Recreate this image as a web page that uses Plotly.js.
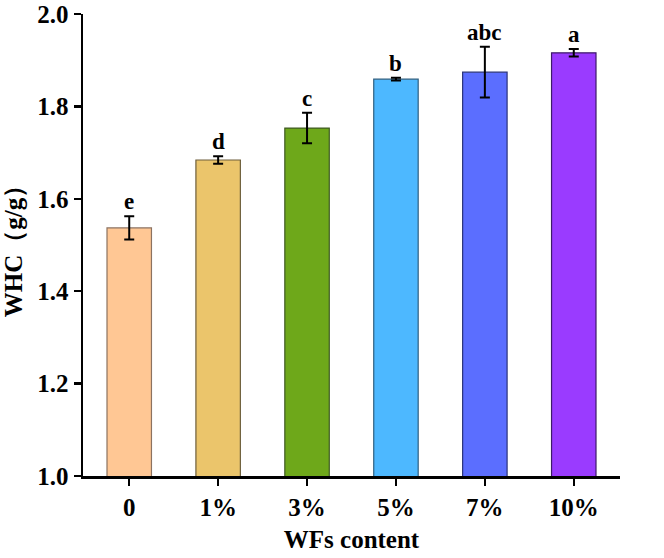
<!DOCTYPE html>
<html>
<head>
<meta charset="utf-8">
<script src="https://cdn.plot.ly/plotly-3.0.1.min.js"></script>
<style>
  html, body { margin: 0; padding: 0; background: #fff; }
  #chart { width: 664px; height: 558px; }
</style>
</head>
<body>
<div id="chart"></div>
<script>
// Water holding capacity by WFs content
const categories = ['0', '1%', '3%', '5%', '7%', '10%'];
const whc = [1.537, 1.684, 1.753, 1.859, 1.874, 1.916];
const whcErr = [0.025, 0.008, 0.033, 0.003, 0.055, 0.008];
const sigLetters = ['e', 'd', 'c', 'b', 'abc', 'a'];
const fillColors = ['#FFC794', '#EBC56B', '#6EA81A', '#4DB8FF', '#5B6EFF', '#9A3BFF'];
const edgeColors = ['#8C7260', '#6E5F3C', '#3F5A22', '#2F5F80', '#2A347A', '#3E1A6A'];

const font = '"Liberation Serif", "Times New Roman", serif';

const trace = {
  type: 'bar',
  x: categories,
  y: whc,
  width: 0.5,
  marker: { color: fillColors, line: { color: edgeColors, width: 1.2 } },
  error_y: { type: 'data', array: whcErr, visible: true, color: '#000', thickness: 2, width: 5 },
  hoverinfo: 'x+y'
};

const annotations = categories.map((c, i) => ({
  x: c,
  y: whc[i] + whcErr[i],
  xref: 'x', yref: 'y',
  text: '<b>' + sigLetters[i] + '</b>',
  showarrow: false,
  yanchor: 'bottom',
  yshift: 0,
  font: { family: font, size: 23, color: '#000' }
}));

const layout = {
  width: 664, height: 558,
  margin: { l: 83, r: 44, t: 14, b: 82 },
  paper_bgcolor: '#fff', plot_bgcolor: '#fff',
  showlegend: false,
  bargap: 0.5,
  font: { family: font },
  xaxis: {
    type: 'category',
    range: [-0.52, 5.52],
    showline: true, linecolor: '#000', linewidth: 2.5,
    ticks: 'outside', ticklen: 7, tickwidth: 2.5, tickcolor: '#000',
    showgrid: false, zeroline: false,
    tickfont: { family: font, size: 25, color: '#000', weight: 'bold' },
    title: { text: '<b>WFs content</b>', font: { family: font, size: 25, color: '#000' }, standoff: 11 }
  },
  yaxis: {
    range: [1.0, 2.0],
    tickvals: [1.0, 1.2, 1.4, 1.6, 1.8, 2.0],
    ticktext: ['1.0', '1.2', '1.4', '1.6', '1.8', '2.0'],
    showline: true, linecolor: '#000', linewidth: 2.5,
    ticks: 'outside', ticklen: 7, tickwidth: 2.5, tickcolor: '#000',
    showgrid: false, zeroline: false,
    tickfont: { family: font, size: 25, color: '#000', weight: 'bold' },
    title: { text: '<b>WHC（g/g）</b>', font: { family: font, size: 25, color: '#000' }, standoff: 8 }
  },
  annotations: annotations
};

Plotly.newPlot('chart', [trace], layout, { displayModeBar: false, staticPlot: true });
</script>
</body>
</html>
